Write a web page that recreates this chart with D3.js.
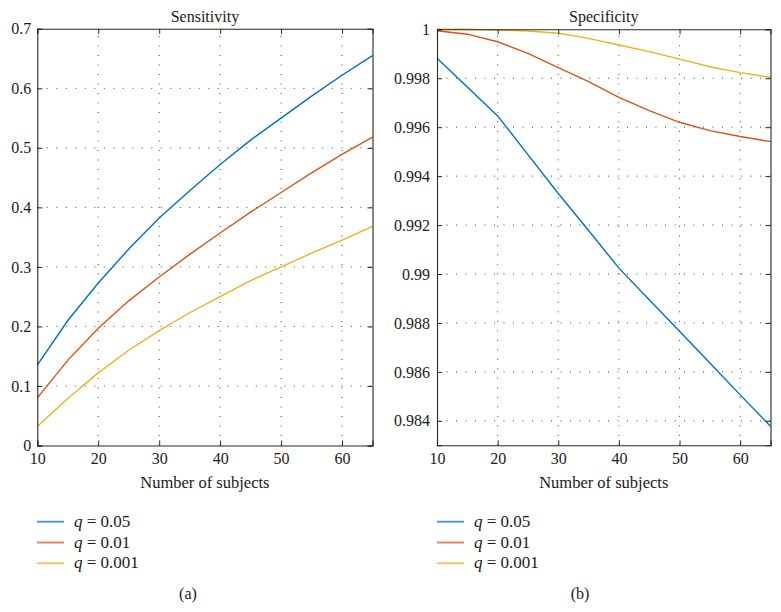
<!DOCTYPE html>
<html>
<head>
<meta charset="utf-8">
<script src="https://cdn.jsdelivr.net/npm/d3@7/dist/d3.min.js"></script>
<style>
  html, body { margin: 0; padding: 0; background: #fff; }
  svg { display: block; }
  text { font-family: "Liberation Serif", "DejaVu Serif", serif; fill: #1a1a1a; }
</style>
</head>
<body>
<svg id="chart" width="781" height="612"></svg>
<script>
// ---- data ----
const subjects = [10, 15, 20, 25, 30, 35, 40, 45, 50, 55, 60, 65];

const sensQ005  = [0.135, 0.210, 0.273, 0.330, 0.382, 0.428, 0.472, 0.513, 0.550, 0.587, 0.622, 0.655];
const sensQ001  = [0.080, 0.143, 0.197, 0.243, 0.283, 0.321, 0.357, 0.392, 0.425, 0.458, 0.489, 0.518];
const sensQ0001 = [0.032, 0.079, 0.122, 0.160, 0.193, 0.223, 0.250, 0.277, 0.300, 0.323, 0.345, 0.368];

const specQ005  = [0.99882, 0.99764, 0.99646, 0.99488, 0.99329, 0.99178, 0.99024, 0.98895, 0.98766, 0.98636, 0.98506, 0.98378];
const specQ001  = [0.99994, 0.99980, 0.99949, 0.99902, 0.99843, 0.99786, 0.99722, 0.99668, 0.99620, 0.99586, 0.99562, 0.99541];
const specQ0001 = [1.00000, 1.00000, 0.99997, 0.99993, 0.99984, 0.99963, 0.99936, 0.99909, 0.99878, 0.99847, 0.99823, 0.99804];

const seriesLabels = ["0.05", "0.01", "0.001"];
const seriesColors = ["#0072BD", "#D95319", "#EDB120"];

const xTicks = [10, 20, 30, 40, 50, 60];
const sensTicks = [0, 0.1, 0.2, 0.3, 0.4, 0.5, 0.6, 0.7];
const specTicks = [0.984, 0.986, 0.988, 0.99, 0.992, 0.994, 0.996, 0.998, 1];

// ---- drawing ----
const svg = d3.select("#chart");

function panel(opts) {
  const { x0, x1, y0, y1, yDomain, yTicks, yFmt, yPad, title, series, tag, legendX, tagX } = opts;
  const x = d3.scaleLinear().domain([10, 65]).range([x0, x1]);
  const y = d3.scaleLinear().domain(yDomain).range([y0, y1]);
  const g = svg.append("g");

  // grid (dotted)
  const grid = g.append("g").attr("stroke", "#444").attr("stroke-width", 1)
    .attr("stroke-dasharray", "1,8.5");
  xTicks.forEach(t => {
    if (t === 10) return;
    grid.append("line").attr("x1", x(t)).attr("x2", x(t)).attr("y1", y0).attr("y2", y1);
  });
  yTicks.forEach(t => {
    if (Math.abs(y(t) - y0) < 1 || Math.abs(y(t) - y1) < 1) return;
    grid.append("line").attr("x1", x0).attr("x2", x1).attr("y1", y(t)).attr("y2", y(t));
  });

  // lines
  const line = d3.line().x((d, i) => x(subjects[i])).y(d => y(d));
  series.forEach((s, k) => {
    g.append("path").datum(s).attr("d", line).attr("fill", "none")
      .attr("stroke", seriesColors[k]).attr("stroke-width", 1.4);
  });

  // axes via d3 (ticks inward)
  const axB = g.append("g").attr("transform", `translate(0,${y0})`)
    .call(d3.axisBottom(x).tickValues(xTicks).tickSize(-5).tickPadding(7.5).tickFormat(d3.format("d")));
  const axT = g.append("g").attr("transform", `translate(0,${y1})`)
    .call(d3.axisTop(x).tickValues(xTicks).tickSize(-5).tickFormat(""));
  const axL = g.append("g").attr("transform", `translate(${x0},0)`)
    .call(d3.axisLeft(y).tickValues(yTicks).tickSize(-5).tickPadding(yPad).tickFormat(yFmt));
  const axR = g.append("g").attr("transform", `translate(${x1},0)`)
    .call(d3.axisRight(y).tickValues(yTicks).tickSize(-5).tickFormat(""));
  [axB, axT, axL, axR].forEach(a => {
    a.select(".domain").attr("stroke", "#262626").attr("stroke-width", 1.1);
    a.selectAll(".tick line").attr("stroke", "#262626").attr("stroke-width", 1);
    a.selectAll("text").attr("font-family", "Liberation Serif, serif")
      .attr("font-size", 16).attr("fill", "#1a1a1a");
  });

  // title
  g.append("text").attr("x", (x0 + x1) / 2).attr("y", 22).attr("text-anchor", "middle")
    .attr("font-size", 16).text(title);
  // x label
  g.append("text").attr("x", (x0 + x1) / 2).attr("y", 488).attr("text-anchor", "middle")
    .attr("font-size", 16.5).text("Number of subjects");

  // legend
  seriesLabels.forEach((lab, k) => {
    const yy = 521.7 + k * 20.8;
    g.append("line").attr("x1", legendX).attr("x2", legendX + 27).attr("y1", yy).attr("y2", yy)
      .attr("stroke", seriesColors[k]).attr("stroke-width", 2).attr("stroke-opacity", 0.7);
    const t = g.append("text").attr("x", legendX + 37).attr("y", yy + 5).attr("font-size", 17);
    t.append("tspan").attr("font-style", "italic").text("q");
    t.append("tspan").text(" = " + lab);
  });

  // tag
  g.append("text").attr("x", tagX).attr("y", 599).attr("text-anchor", "middle")
    .attr("font-size", 16).text(tag);
}

panel({
  x0: 37.3, x1: 372.5, y0: 445.5, y1: 28.8,
  yDomain: [0, 0.7], yTicks: sensTicks, yPad: 6,
  yFmt: d => String(+d.toFixed(1)),
  title: "Sensitivity",
  series: [sensQ005, sensQ001, sensQ0001],
  tag: "(a)", legendX: 37, tagX: 188
});

panel({
  x0: 437, x1: 770.5, y0: 445.3, y1: 29.3,
  yDomain: [0.983, 1], yTicks: specTicks, yPad: 7,
  yFmt: d => String(+d.toFixed(3)),
  title: "Specificity",
  series: [specQ005, specQ001, specQ0001],
  tag: "(b)", legendX: 437, tagX: 580
});
</script>
</body>
</html>
